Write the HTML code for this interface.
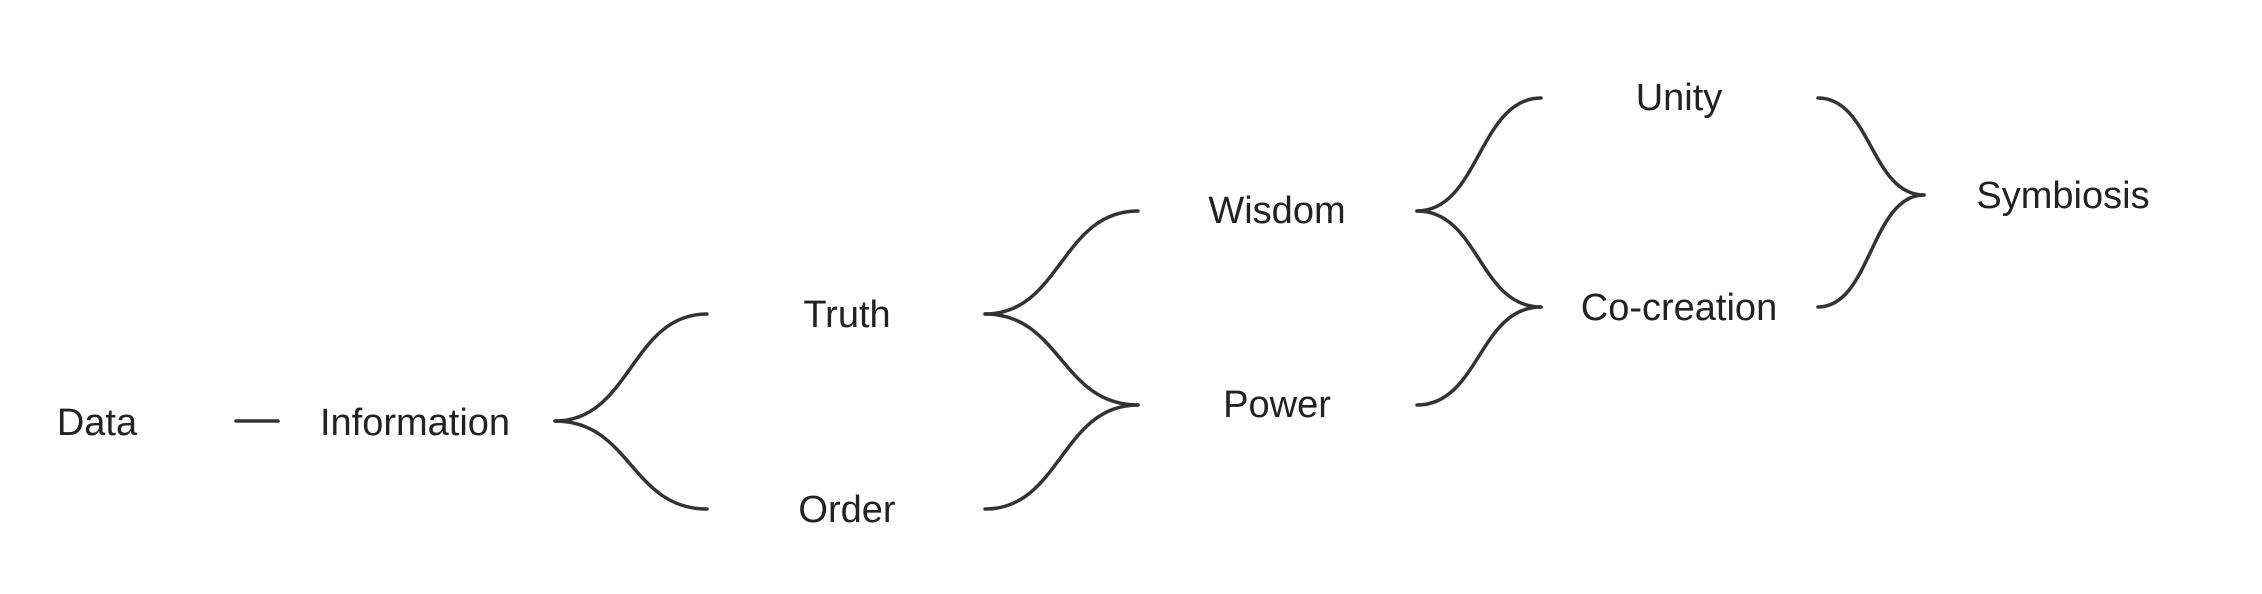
<!DOCTYPE html>
<html><head><meta charset="utf-8"><style>
html,body{margin:0;padding:0;background:#fff;}
svg{display:block}
text{font-family:"Liberation Sans",sans-serif;font-size:38px;fill:#222;text-anchor:middle;dominant-baseline:central}
path{fill:none;stroke:#333;stroke-width:3.5;stroke-linecap:round}
</style></head><body>
<svg width="2262" height="594" viewBox="0 0 2262 594" xmlns="http://www.w3.org/2000/svg">
<path d="M236 421 L278 421"/>
<path d="M555 421 C631 421 631 314 707 314"/>
<path d="M555 421 C631 421 631 509 707 509"/>
<path d="M985 314 C1061 314 1061 211 1138 211"/>
<path d="M985 314 C1061 314 1061 405 1138 405"/>
<path d="M985 509 C1061 509 1061 405 1138 405"/>
<path d="M1417 211 C1479 211 1479 98 1541 98"/>
<path d="M1417 211 C1479 211 1479 307 1541 307"/>
<path d="M1417 405 C1479 405 1479 307 1541 307"/>
<path d="M1818 98 C1871 98 1871 195 1924 195"/>
<path d="M1818 307 C1871 307 1871 195 1924 195"/>
<text x="97" y="423">Data</text>
<text x="415" y="423">Information</text>
<text x="847" y="315">Truth</text>
<text x="847" y="510">Order</text>
<text x="1277" y="211">Wisdom</text>
<text x="1277" y="405">Power</text>
<text x="1679" y="98">Unity</text>
<text x="1679" y="308">Co-creation</text>
<text x="2063" y="196">Symbiosis</text>
</svg>
</body></html>
